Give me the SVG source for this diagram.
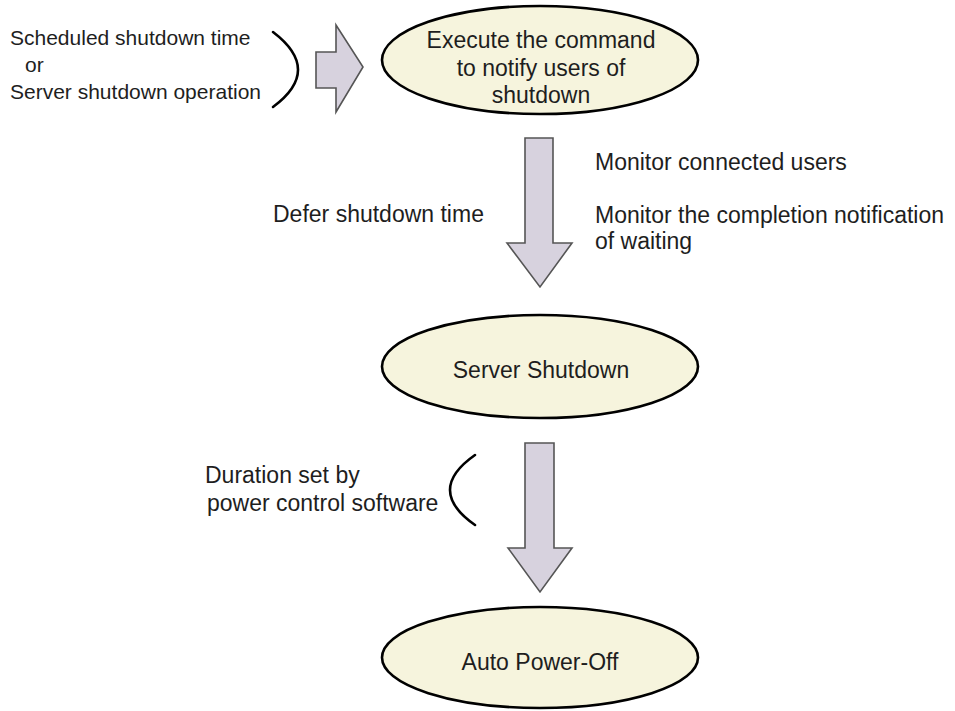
<svg xmlns="http://www.w3.org/2000/svg" width="955" height="711" viewBox="0 0 955 711">
<style>
text{font-family:"Liberation Sans",Arial,sans-serif;font-size:23px;fill:#1e1e1e}
.sm{font-size:21px}
.c{text-anchor:middle}
.node ellipse{fill:#f6f4dd;stroke:#000;stroke-width:2.6}
.arrow{fill:#d7d2de;stroke:#555;stroke-width:1.6;stroke-linejoin:miter}
.brace{fill:none;stroke:#000;stroke-width:2.6;stroke-linecap:round}
</style>
<rect width="955" height="711" fill="#fff"/>
<g id="trigger">
<text class="sm" x="10" y="45">Scheduled shutdown time</text>
<text class="sm" x="25" y="72">or</text>
<text class="sm" x="10" y="99">Server shutdown operation</text>
</g>
<g id="notify" class="node">
<ellipse cx="540" cy="60" rx="158" ry="54"/>
<text class="c" x="541" y="48">Execute the command</text>
<text class="c" x="541" y="76">to notify users of</text>
<text class="c" x="541" y="103">shutdown</text>
</g>
<g id="shutdown" class="node">
<ellipse cx="540" cy="366.5" rx="158" ry="51.5"/>
<text class="c" x="541" y="378">Server Shutdown</text>
</g>
<g id="poweroff" class="node">
<ellipse cx="540" cy="657.5" rx="158" ry="50.5"/>
<text class="c" x="540" y="670">Auto Power-Off</text>
</g>
<g id="connectors">
<path class="brace" d="M273,32 Q323,70 273,107"/>
<polygon class="arrow" points="316,52 336,52 336,25 363,67 336,112 336,88 316,88"/>
<polygon class="arrow" points="525,138 553,138 553,243 572,243 540,287 507,243 525,243"/>
<polygon class="arrow" points="525,443 554,443 554,548 572,548 540,592 508,548 525,548"/>
<path class="brace" d="M475,455 Q425,490 475,525"/>
</g>
<g id="labels">
<text x="273" y="222">Defer shutdown time</text>
<text x="595" y="170">Monitor connected users</text>
<text x="595" y="223">Monitor the completion notification</text>
<text x="595" y="249">of waiting</text>
<text x="205" y="483">Duration set by</text>
<text x="207" y="511">power control software</text>
</g>
</svg>
